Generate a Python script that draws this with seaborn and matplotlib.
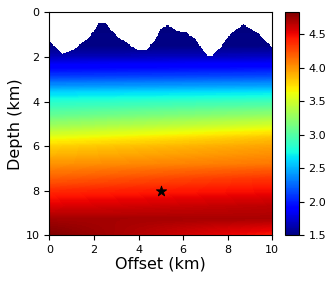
import numpy as np
import seaborn as sns
import matplotlib
matplotlib.use('Agg')
import matplotlib.pyplot as plt

# topography surface (offset km, depth km)
topo_x = [0.0, 0.6, 1.07, 1.52, 1.82, 2.2, 2.5, 3.02, 3.47, 3.92, 4.37, 4.74, 5.04, 5.34,
          5.71, 6.16, 6.53, 6.91, 7.12, 7.3, 7.65, 8.1, 8.7, 9.3, 10.0]
topo_depth = [1.32, 1.92, 1.70, 1.37, 1.10, 0.53, 0.53, 1.10, 1.40, 1.70, 1.73, 1.25, 0.72, 0.62,
              0.87, 0.95, 1.22, 1.77, 1.97, 1.97, 1.63, 1.02, 0.57, 0.95, 1.63]

# velocity profiles (km/s) at the left and right edges
depth_knots = [0, 1.5, 1.9, 2.3, 2.7, 3.1, 3.6, 4.0, 4.7, 5.3, 5.6, 6.0, 6.8, 7.5, 8.1, 8.7, 9.3, 9.7, 10]
vel_left = [1.5, 1.52, 1.62, 1.82, 2.0, 2.25, 2.6, 2.8, 3.1, 3.4, 3.58, 3.78, 4.0, 4.2, 4.4, 4.55, 4.72, 4.78, 4.82]
vel_right = [1.5, 1.52, 1.65, 1.85, 2.05, 2.3, 2.65, 2.9, 3.3, 3.65, 3.82, 3.95, 4.1, 4.35, 4.5, 4.65, 4.7, 4.55, 4.45]

source_x = [5.0]
source_z = [8.0]

n = 201
xs = np.linspace(0, 10, n)
zs = np.linspace(0, 10, n)
left = np.interp(zs, depth_knots, vel_left)
right = np.interp(zs, depth_knots, vel_right)
w = xs / 10.0
vel = left[:, None] * (1 - w[None, :]) + right[:, None] * w[None, :]
surface = np.interp(xs, topo_x, topo_depth)
vel = np.ma.masked_where(zs[:, None] < surface[None, :], vel)

fig = plt.figure(figsize=(3.32, 2.82), dpi=100)
ax = fig.add_axes([0.1485, 0.165, 0.6717, 0.7915])
cax = fig.add_axes([0.858, 0.165, 0.042, 0.7915])

im = ax.imshow(vel, cmap='jet', vmin=1.5, vmax=4.83, extent=[0, 10, 10, 0],
               aspect='auto', interpolation='nearest')
sns.scatterplot(x=source_x, y=source_z, marker='*', s=60, color='black',
                edgecolor='black', ax=ax, zorder=5)
ax.set_xlim(0, 10)
ax.set_ylim(10, 0)
ax.set_xticks([0, 2, 4, 6, 8, 10])
ax.set_yticks([0, 2, 4, 6, 8, 10])
ax.tick_params(labelsize=8)
ax.set_xlabel('Offset (km)', fontsize=11.5, labelpad=1)
ax.set_ylabel('Depth (km)', fontsize=11.5, labelpad=2)

cb = fig.colorbar(im, cax=cax)
cb.set_ticks([1.5, 2.0, 2.5, 3.0, 3.5, 4.0, 4.5])
cb.ax.tick_params(labelsize=8)

fig.savefig('out.png', dpi=100)
